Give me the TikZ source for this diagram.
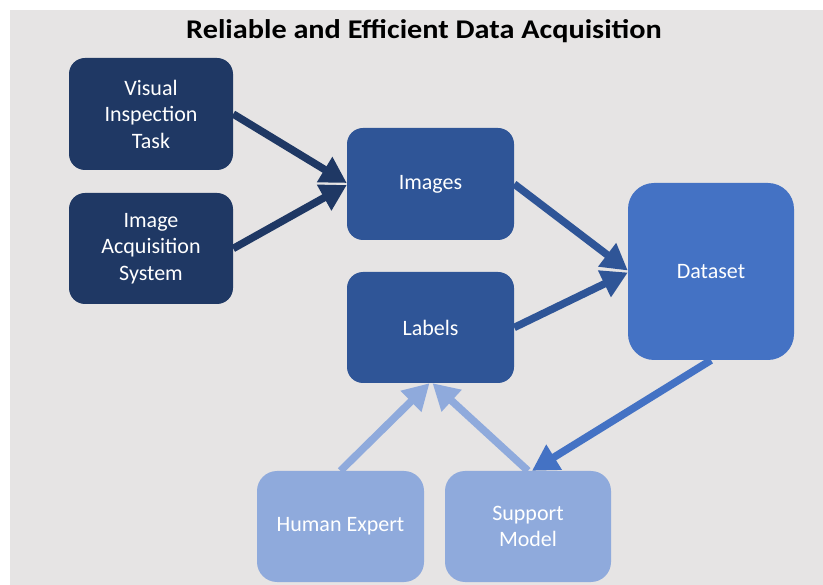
\documentclass[tikz,border=0pt]{standalone}
\usepackage{fontspec}
\setmainfont{Carlito}
\newfontfamily\headingfont[FakeStretch=1.12]{Carlito}
\usetikzlibrary{arrows.meta}
\definecolor{canvas}{HTML}{E6E4E4}
\definecolor{navy}{HTML}{1F3864}
\definecolor{midblue}{HTML}{2F5597}
\definecolor{brightblue}{HTML}{4472C4}
\definecolor{paleblue}{HTML}{8FAADC}
\begin{document}
\begin{tikzpicture}[x=1pt,y=-1pt,
  box/.style={rectangle, rounded corners=16pt, inner sep=0pt, text=white,
    align=center, minimum width=166pt, minimum height=111pt,
    font=\fontsize{22}{26.5}\selectfont},
  flow/.style={line width=7.5pt, -{Triangle[length=26pt,width=28pt]}}]
  % page and grey canvas
  \useasboundingbox (0,0) rectangle (823,585);
  \fill[canvas] (10,10) rectangle (823,585);

  \node[font=\headingfont\fontsize{27}{30}\selectfont\bfseries, anchor=base] (title) at (424,38.5)
    {Reliable and Efficient Data Acquisition};

  % boxes
  \node[box, fill=navy, minimum width=164pt, minimum height=112pt] (vit) at (151,114)
    {Visual\\Inspection\\Task};
  \node[box, fill=navy, minimum width=164pt] (ias) at (151,248.5)
    {Image\\Acquisition\\System};
  \node[box, fill=midblue, minimum width=167pt, minimum height=112pt] (img) at (430.5,184)
    {Images};
  \node[box, fill=midblue, minimum width=167pt] (lab) at (430.5,327.5)
    {Labels};
  \node[box, fill=brightblue, rounded corners=26pt, minimum height=177pt] (ds) at (711,271.5)
    {Dataset};
  \node[box, fill=paleblue, rounded corners=20pt, minimum width=167pt] (hum) at (340.5,526.5)
    {Human Expert};
  \node[box, fill=paleblue, rounded corners=20pt] (sup) at (528,526.5)
    {Support\\Model};

  % connectors
  \draw[flow, navy] (vit.east) -- ([yshift=1pt]img.west);
  \draw[flow, navy] (ias.east) -- ([yshift=-1pt]img.west);
  \draw[flow, midblue] (img.east) -- ([yshift=1pt]ds.west);
  \draw[flow, midblue] (lab.east) -- ([yshift=-1pt]ds.west);
  \draw[flow, paleblue] (hum.north) -- ([xshift=-1pt]lab.south);
  \draw[flow, paleblue] (sup.north) -- ([xshift=2pt]lab.south);
  \draw[flow, brightblue] (ds.south) -- ([xshift=4pt]sup.north);
\end{tikzpicture}
\end{document}
